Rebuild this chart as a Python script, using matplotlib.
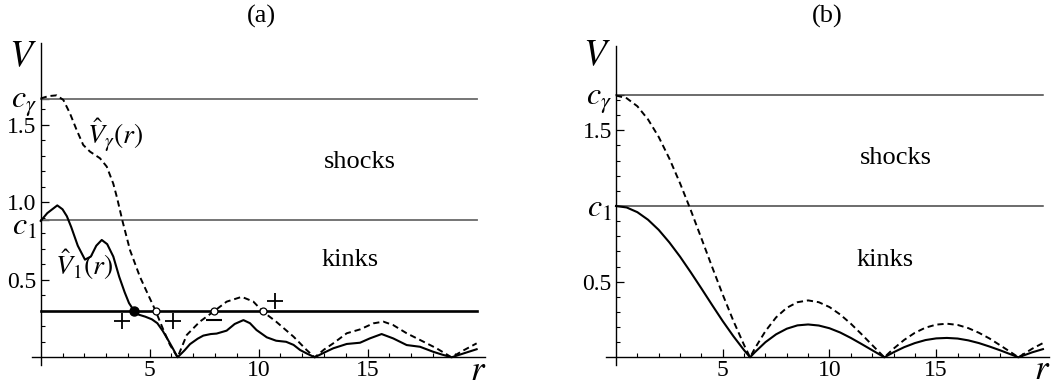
import matplotlib
matplotlib.use("Agg")
import matplotlib.pyplot as plt
import matplotlib.transforms as mtransforms
from matplotlib.ticker import FixedLocator, FixedFormatter

plt.rcParams['font.family'] = ['Liberation Serif', 'DejaVu Serif']
plt.rcParams['mathtext.fontset'] = 'stix'

# ---------------- data: panel (a) ----------------
c_gamma_a = 1.667
c_one_a = 0.885
v_level_a = 0.30

r_v1_a = [0, 0.3, 0.76, 1.0, 1.2, 1.4, 1.7, 2.03, 2.3, 2.55, 2.8, 3.05, 3.33, 3.6,
          3.85, 4.05, 4.28, 4.5, 4.8, 5.1, 5.35, 5.6, 5.85, 6.05, 6.28, 6.6, 6.85,
          7.2, 7.46, 7.8, 8.07, 8.53, 8.9, 9.3, 9.6, 9.9, 10.37, 10.8, 11.26, 11.6,
          11.9, 12.2, 12.57, 13.0, 13.42, 14.04, 14.65, 15.1, 15.64, 16.17, 16.79,
          17.4, 18.0, 18.4, 18.85, 19.4, 20.0]
v1_a = [0.88, 0.93, 0.98, 0.955, 0.91, 0.84, 0.72, 0.63, 0.65, 0.72, 0.757, 0.73,
        0.65, 0.52, 0.42, 0.35, 0.30, 0.275, 0.262, 0.245, 0.22, 0.17, 0.11, 0.06,
        0.0, 0.045, 0.085, 0.12, 0.14, 0.15, 0.153, 0.172, 0.215, 0.24, 0.22, 0.176,
        0.129, 0.107, 0.10, 0.08, 0.047, 0.025, 0.0, 0.03, 0.058, 0.086, 0.094,
        0.122, 0.15, 0.122, 0.079, 0.068, 0.036, 0.018, 0.0, 0.025, 0.052]

r_vg_a = [0, 0.35, 0.73, 1.04, 1.34, 1.65, 1.95, 2.26, 2.72, 3.03, 3.33, 3.5, 3.75,
          4.1, 4.55, 4.94, 5.27, 5.63, 5.93, 6.28, 6.7, 7.3, 7.92, 8.53, 9.22, 9.75,
          10.2, 10.8, 11.6, 12.2, 12.57, 13.0, 13.42, 14.04, 14.65, 15.26, 15.72,
          16.17, 16.79, 17.4, 18.16, 18.85, 19.4, 20.0]
vg_a = [1.67, 1.685, 1.69, 1.66, 1.574, 1.466, 1.37, 1.327, 1.284, 1.23, 1.12, 1.03,
        0.88, 0.69, 0.52, 0.40, 0.30, 0.176, 0.08, 0.0, 0.144, 0.23, 0.294, 0.359,
        0.39, 0.36, 0.294, 0.23, 0.133, 0.047, 0.0, 0.05, 0.09, 0.155, 0.18, 0.219,
        0.23, 0.208, 0.155, 0.112, 0.058, 0.0, 0.045, 0.09]

filled_r = [4.28]
open_r = [5.27, 7.95, 10.2]
plus_r = [3.73, 6.05, 10.75]
plus_v = [0.236, 0.236, 0.36]
minus_r = [7.95]
minus_v = [0.24]

# ---------------- data: panel (b) ----------------
c_gamma_b = 1.73
c_one_b = 1.0
r_b = [0, 0.5, 1, 1.5, 2, 2.5, 3, 3.5, 4, 4.5, 5, 5.5, 6, 6.28, 6.5, 7, 7.5, 8, 8.5,
       9, 9.5, 10, 10.5, 11, 11.5, 12, 12.57, 13, 13.5, 14, 14.5, 15, 15.5, 16,
       16.5, 17, 17.5, 18, 18.5, 18.85, 19.5, 20]
v1_b = [1.0, 0.990, 0.959, 0.909, 0.842, 0.759, 0.665, 0.562, 0.455, 0.346, 0.239,
        0.139, 0.047, 0.0, 0.033, 0.100, 0.152, 0.189, 0.211, 0.217, 0.210, 0.192,
        0.164, 0.128, 0.088, 0.047, 0.0, 0.033, 0.067, 0.094, 0.114, 0.125, 0.128,
        0.124, 0.112, 0.094, 0.071, 0.046, 0.019, 0.0, 0.033, 0.054]
vg_b = [1.73, 1.712, 1.659, 1.572, 1.456, 1.313, 1.150, 0.973, 0.786, 0.598, 0.414,
        0.240, 0.081, 0.0, 0.058, 0.173, 0.264, 0.327, 0.364, 0.376, 0.364, 0.332,
        0.283, 0.222, 0.153, 0.081, 0.0, 0.057, 0.115, 0.162, 0.196, 0.216, 0.222,
        0.214, 0.193, 0.162, 0.124, 0.079, 0.033, 0.0, 0.057, 0.094]

fig = plt.figure(figsize=(10.62, 3.87), dpi=100)
ax_a = fig.add_axes([0.03013, 0.05672, 0.4269, 0.8331])
ax_b = fig.add_axes([0.5706, 0.05718, 0.4175, 0.8251])

TICK_FS = 17
BIG_FS = 23
TEXT_FS = 19


def style_axes(ax, xlim, ylim, ymajor, ylabels, yminor):
    ax.set_xlim(*xlim)
    ax.set_ylim(*ylim)
    for s in ['top', 'right']:
        ax.spines[s].set_visible(False)
    ax.spines['left'].set_position(('data', 0))
    ax.spines['bottom'].set_position(('data', 0))
    for s in ['left', 'bottom']:
        ax.spines[s].set_linewidth(1.0)
    ax.xaxis.set_major_locator(FixedLocator([5, 10, 15]))
    ax.xaxis.set_major_formatter(FixedFormatter(['5', '10', '15']))
    ax.xaxis.set_minor_locator(FixedLocator([i for i in range(1, 21) if i % 5 != 0]))
    ax.yaxis.set_major_locator(FixedLocator(ymajor))
    ax.yaxis.set_major_formatter(FixedFormatter(ylabels))
    ax.yaxis.set_minor_locator(FixedLocator(yminor))
    ax.tick_params(which='major', direction='in', length=6, width=0.9, labelsize=TICK_FS)
    ax.tick_params(which='minor', direction='in', length=3.2, width=0.8)
    ax.tick_params(axis='x', which='major', pad=2)
    ax.tick_params(axis='y', which='major', pad=3)
    for lbl in ax.get_yticklabels():
        if lbl.get_text().startswith('$'):
            lbl.set_fontsize(BIG_FS)
    ax.text(xlim[1] - 0.35, -0.09, r'$r$', fontsize=BIG_FS + 2, ha='center', va='center',
            clip_on=False)


# ---------------- panel (a) ----------------
ya_major = [0.5, c_one_a, 1.0, 1.5, c_gamma_a]
ya_labels = ['0.5', r'$c_1$', '1.0', '1.5', r'$c_\gamma$']
ya_minor = [k / 10 for k in range(1, 17) if k not in (5, 10, 15)]
style_axes(ax_a, (-0.4, 20.4), (-0.05, 2.03), ya_major, ya_labels, ya_minor)

# nudge the c_1 label of panel (a) slightly down so it does not collide with "1.0"
shift = mtransforms.ScaledTranslation(0, -3 / 72, fig.dpi_scale_trans)
for lbl in ax_a.get_yticklabels():
    if lbl.get_text() == r'$c_1$':
        lbl.set_transform(lbl.get_transform() + shift)

ax_a.plot([0, 20], [c_gamma_a, c_gamma_a], color='#6a6a6a', lw=1.3)
ax_a.plot([0, 20], [c_one_a, c_one_a], color='#6a6a6a', lw=1.3)
ax_a.plot([0, 20], [v_level_a, v_level_a], color='black', lw=1.9)
ax_a.plot(r_vg_a, vg_a, color='black', lw=1.4, dashes=(3.2, 2))
ax_a.plot(r_v1_a, v1_a, color='black', lw=1.5)
ax_a.plot(filled_r, [v_level_a] * len(filled_r), 'o', color='black', ms=6.5)
ax_a.plot(open_r, [v_level_a] * len(open_r), 'o', mfc='white', mec='black', ms=5, mew=0.9)
ax_a.plot(plus_r, plus_v, '+', color='black', ms=11, mew=1.3)
ax_a.plot(minus_r, minus_v, '_', color='black', ms=11, mew=1.5)

ax_a.text(-0.81, 1.94, r'$V$', fontsize=27, ha='center', va='center', clip_on=False)
ax_a.text(14.65, 1.26, 'shocks', fontsize=TEXT_FS, ha='center', va='center')
ax_a.text(14.2, 0.63, 'kinks', fontsize=TEXT_FS, ha='center', va='center')
ax_a.text(3.4, 1.43, r'$\hat{V}_\gamma(r)$', fontsize=TEXT_FS + 1, ha='center', va='center')
ax_a.text(2.0, 0.60, r'$\hat{V}_1(r)$', fontsize=TEXT_FS + 1, ha='center', va='center')

# ---------------- panel (b) ----------------
yb_major = [0.5, c_one_b, 1.5, c_gamma_b]
yb_labels = ['0.5', r'$c_1$', '1.5', r'$c_\gamma$']
yb_minor = [k / 10 for k in range(1, 18) if k not in (5, 10, 15)]
style_axes(ax_b, (-0.47, 20.3), (-0.05, 2.06), yb_major, yb_labels, yb_minor)

ax_b.plot([0, 20], [c_gamma_b, c_gamma_b], color='#444444', lw=1.1)
ax_b.plot([0, 20], [c_one_b, c_one_b], color='#444444', lw=1.1)
ax_b.plot(r_b, vg_b, color='black', lw=1.4, dashes=(3.2, 2))
ax_b.plot(r_b, v1_b, color='black', lw=1.5)

ax_b.text(-0.89, 1.99, r'$V$', fontsize=27, ha='center', va='center', clip_on=False)
ax_b.text(13.1, 1.32, 'shocks', fontsize=TEXT_FS, ha='center', va='center')
ax_b.text(12.6, 0.64, 'kinks', fontsize=TEXT_FS, ha='center', va='center')

fig.text(261 / 1062, 1 - 16 / 387, '(a)', fontsize=TEXT_FS, ha='center', va='center')
fig.text(827 / 1062, 1 - 16 / 387, '(b)', fontsize=TEXT_FS, ha='center', va='center')

fig.savefig('out.png', dpi=100)
